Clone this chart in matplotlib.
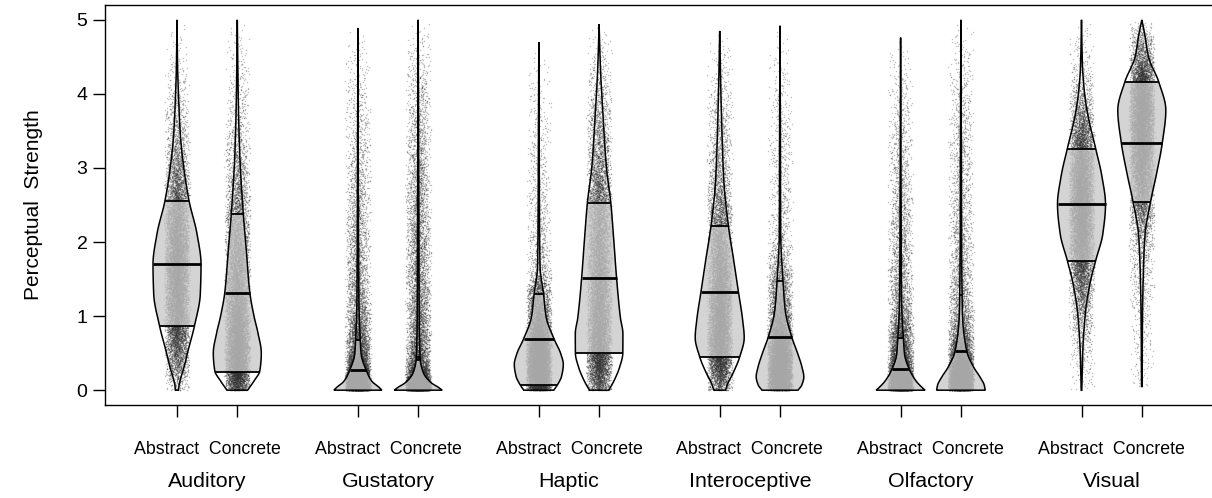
import numpy as np
import matplotlib.pyplot as plt
from matplotlib.patches import Polygon
from matplotlib.transforms import blended_transform_factory

plt.rcParams['font.family'] = ['Liberation Sans', 'DejaVu Sans']

groups = ['Auditory', 'Gustatory', 'Haptic', 'Interoceptive', 'Olfactory', 'Visual']
conditions = ['Abstract', 'Concrete']

# bean outlines: strength level -> half width (pixels)
aud_abs_y = [0.00, 0.08, 0.31, 0.53, 0.87, 1.30, 1.70, 2.11, 2.56, 3.01, 3.46, 3.91, 4.37, 5.00]
aud_abs_w = [1.5, 2.3, 7.0, 11.0, 17.5, 23.3, 24.0, 20.0, 12.0, 6.7, 3.3, 1.7, 0.6, 0.0]
aud_con_y = [0.00, 0.13, 0.26, 0.50, 0.77, 1.00, 1.32, 1.89, 2.38, 3.24, 3.91, 5.00]
aud_con_w = [10.3, 17.0, 22.5, 24.0, 20.7, 16.7, 12.5, 9.0, 6.0, 2.3, 1.0, 0.0]
gus_abs_y = [0.00, 0.04, 0.12, 0.27, 0.48, 0.68, 1.21, 2.50, 4.89]
gus_abs_w = [24.0, 21.0, 14.0, 8.3, 3.3, 2.3, 1.0, 0.5, 0.0]
gus_con_y = [0.00, 0.04, 0.10, 0.24, 0.42, 1.00, 2.50, 5.00]
gus_con_w = [24.0, 20.0, 13.0, 5.0, 2.0, 1.0, 0.6, 0.0]
hap_abs_y = [0.00, 0.08, 0.19, 0.35, 0.49, 0.69, 0.99, 1.30, 1.66, 2.11, 3.30, 4.70]
hap_abs_w = [15.0, 19.0, 22.8, 24.5, 22.0, 15.3, 7.3, 4.7, 1.3, 0.8, 0.4, 0.0]
hap_con_y = [0.00, 0.13, 0.31, 0.50, 0.76, 0.98, 1.51, 2.02, 2.53, 3.01, 3.69, 4.37, 4.94]
hap_con_w = [9.7, 15.0, 20.5, 23.7, 23.8, 21.3, 17.5, 14.7, 11.7, 7.3, 4.0, 1.3, 0.0]
int_abs_y = [0.00, 0.08, 0.22, 0.45, 0.71, 0.94, 1.33, 1.77, 2.21, 2.79, 3.46, 4.14, 4.85]
int_abs_w = [5.8, 7.8, 13.0, 20.0, 24.5, 23.0, 18.7, 13.8, 8.8, 4.3, 2.3, 1.0, 0.0]
int_con_y = [0.00, 0.07, 0.18, 0.31, 0.49, 0.72, 1.07, 1.47, 2.11, 3.50, 4.92]
int_con_w = [18.0, 21.8, 23.8, 22.0, 17.8, 11.7, 5.3, 3.0, 0.7, 0.4, 0.0]
olf_abs_y = [0.00, 0.03, 0.12, 0.28, 0.48, 0.70, 1.20, 2.50, 4.76]
olf_abs_w = [24.5, 22.0, 15.7, 8.8, 4.0, 2.8, 1.0, 0.5, 0.0]
olf_con_y = [0.00, 0.07, 0.18, 0.31, 0.53, 0.99, 1.28, 2.00, 3.50, 5.00]
olf_con_w = [24.3, 23.3, 19.0, 12.8, 5.8, 1.7, 1.2, 0.7, 0.4, 0.0]
vis_abs_y = [0.00, 0.53, 1.03, 1.43, 1.75, 2.11, 2.51, 2.88, 3.26, 3.69, 3.98, 4.37, 5.00]
vis_abs_w = [0.3, 1.3, 3.8, 8.3, 14.2, 21.3, 24.0, 20.5, 14.2, 6.7, 3.3, 1.0, 0.0]
vis_con_y = [0.05, 0.98, 1.66, 2.11, 2.54, 2.92, 3.34, 3.78, 4.16, 4.50, 4.82, 5.00]
vis_con_w = [0.3, 0.7, 1.7, 3.3, 8.7, 14.7, 20.5, 24.0, 17.0, 6.7, 2.7, 0.0]

medians = [1.70, 1.31, 0.27, 0.42, 0.69, 1.51, 1.33, 0.72, 0.28, 0.53, 2.51, 3.34]
band_lo = [0.87, 0.25, 0.00, 0.00, 0.07, 0.50, 0.45, 0.00, 0.00, 0.00, 1.75, 2.54]
band_hi = [2.56, 2.38, 0.68, 0.45, 1.30, 2.53, 2.21, 1.47, 0.70, 1.28, 3.26, 4.16]

beans = [(aud_abs_y, aud_abs_w), (aud_con_y, aud_con_w),
         (gus_abs_y, gus_abs_w), (gus_con_y, gus_con_w),
         (hap_abs_y, hap_abs_w), (hap_con_y, hap_con_w),
         (int_abs_y, int_abs_w), (int_con_y, int_con_w),
         (olf_abs_y, olf_abs_w), (olf_con_y, olf_con_w),
         (vis_abs_y, vis_abs_w), (vis_con_y, vis_con_w)]

PX = 60.3          # pixels per x unit
N_PTS = 12000


def smooth_curve(x, y, xn):
    # monotone cubic (pchip) through the read points, so the beans are not angular
    x = np.asarray(x, float)
    y = np.asarray(y, float)
    h = np.diff(x)
    d = np.diff(y) / h
    m = np.zeros_like(y)
    m[0], m[-1] = d[0], d[-1]
    for k in range(1, len(x) - 1):
        if d[k - 1] * d[k] > 0:
            w1 = 2 * h[k] + h[k - 1]
            w2 = h[k] + 2 * h[k - 1]
            m[k] = (w1 + w2) / (w1 / d[k - 1] + w2 / d[k])
    idx = np.clip(np.searchsorted(x, xn) - 1, 0, len(x) - 2)
    t = (xn - x[idx]) / h[idx]
    h00 = 2 * t**3 - 3 * t**2 + 1
    h10 = t**3 - 2 * t**2 + t
    h01 = -2 * t**3 + 3 * t**2
    h11 = t**3 - t**2
    out = h00 * y[idx] + h10 * h[idx] * m[idx] + h01 * y[idx + 1] + h11 * h[idx] * m[idx + 1]
    return np.maximum(out, 0)


def hash01(n, seed):
    v = np.sin(n * 12.9898 + seed * 78.233) * 43758.5453
    return v - np.floor(v)


fig = plt.figure(figsize=(12.12, 4.98), dpi=100)
ax = fig.add_axes([105 / 1212, 93 / 498, 1 - 105 / 1212, 400 / 498])

positions = []
for g in range(len(groups)):
    positions += [3 * g + 1, 3 * g + 2]

for k, (yy, ww) in enumerate(beans):
    c = positions[k]
    yy = np.asarray(yy)
    ww = np.asarray(ww) / PX
    grid = np.linspace(yy[0], yy[-1], 600)
    wg = smooth_curve(yy, ww, grid)

    # points spread along the bean density
    cdf = np.cumsum(wg + 1e-6)
    cdf = cdf / cdf[-1]
    q = (np.arange(N_PTS) + 0.5) / N_PTS
    py = np.interp(q, cdf, grid)
    i = np.arange(N_PTS, dtype=float)
    px = c + (hash01(i, k + 1) + hash01(i, k + 31) - 1.0) * 0.22
    ax.scatter(px, py, s=1.1, color='#333333', alpha=0.3, linewidths=0,
               zorder=2, rasterized=True)

    # inference band inside the bean
    lo, hi = band_lo[k], band_hi[k]
    sel = (grid >= lo) & (grid <= hi)
    by = np.concatenate([[max(lo, yy[0])], grid[sel], [hi]])
    bw = smooth_curve(yy, ww, by)
    ax.fill_betweenx(by, c - bw, c + bw, color='#c8c8c8', alpha=0.78,
                     linewidth=0, zorder=3)

    # bean outline
    verts = [(c - w, y) for y, w in zip(grid, wg)] + \
            [(c + w, y) for y, w in zip(grid[::-1], wg[::-1])]
    ax.add_patch(Polygon(verts, closed=True, fill=False, edgecolor='black',
                         linewidth=1.1, zorder=4))

    for val, lw in [(lo, 1.3), (hi, 1.3), (medians[k], 2.0)]:
        if val <= yy[0]:
            continue
        w = smooth_curve(yy, ww, np.array([val]))[0]
        ax.plot([c - w, c + w], [val, val], color='black', linewidth=lw,
                solid_capstyle='butt', zorder=5)

ax.set_xlim(1 - (177 - 105) / PX, 1 + (1212 - 177) / PX)
ax.set_ylim(-0.2, 5.2)
ax.spines['right'].set_visible(False)
for s in ['left', 'top', 'bottom']:
    ax.spines[s].set_linewidth(1.0)

ax.set_xticks(positions)
ax.set_xticklabels([])
ax.set_yticks([0, 1, 2, 3, 4, 5])
ax.tick_params(axis='both', length=8.6, width=1.0, labelsize=14, pad=4)
ax.set_ylabel('Perceptual  Strength', fontsize=15, labelpad=24)

trans = blended_transform_factory(ax.transData, fig.transFigure)
for g, name in enumerate(groups):
    mid = 3 * g + 1.5
    ax.text(mid, 1 - 454 / 498, '  '.join(conditions), transform=trans,
            ha='center', va='baseline', fontsize=12.8)
    ax.text(mid, 1 - 487 / 498, name, transform=trans,
            ha='center', va='baseline', fontsize=15.4)

fig.savefig('out.png', dpi=100)
